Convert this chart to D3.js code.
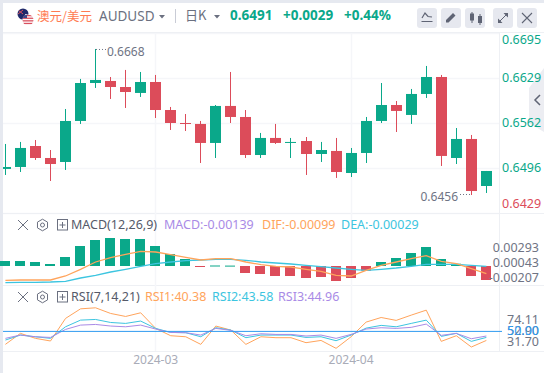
<!DOCTYPE html>
<html>
<head>
<meta charset="utf-8">
<script src="https://cdnjs.cloudflare.com/ajax/libs/d3/7.8.5/d3.min.js"></script>
<style>
html, body { margin: 0; padding: 0; background: #fff; }
svg { display: block; font-family: "Noto Sans", "Noto Sans CJK SC", sans-serif; }
</style>
</head>
<body>
<div id="chart"></div>
<script>
/** DATA */
const opens = [0.64941,0.64970,0.65280,0.65103,0.65044,0.65650,0.66211,0.66241,0.66152,0.66064,0.66226,0.65812,0.65620,0.65606,0.65325,0.65872,0.65709,0.65147,0.65399,0.65325,0.65354,0.65162,0.65207,0.64881,0.65177,0.65650,0.65886,0.65739,0.66049,0.66300,0.65103,0.65384,0.64689];
const highs = [0.65310,0.65340,0.65369,0.65221,0.65827,0.66271,0.66714,0.66300,0.66404,0.66374,0.66330,0.65857,0.65753,0.65650,0.65886,0.66374,0.65812,0.65473,0.65606,0.65399,0.65413,0.65340,0.65399,0.65251,0.65709,0.66211,0.65945,0.66123,0.66463,0.66330,0.65546,0.65443,0.64911];
const lows = [0.64852,0.64896,0.65074,0.64763,0.64926,0.65606,0.66138,0.65975,0.65842,0.66005,0.65694,0.65517,0.65502,0.65029,0.65103,0.65620,0.65103,0.65103,0.65310,0.65103,0.64852,0.65044,0.64808,0.64822,0.65029,0.65620,0.65487,0.65606,0.65990,0.64985,0.65014,0.64556,0.64586];
const closes = [0.64970,0.65251,0.65103,0.65014,0.65650,0.66211,0.66256,0.66152,0.66078,0.66226,0.65812,0.65620,0.65606,0.65325,0.65872,0.65709,0.65147,0.65399,0.65325,0.65340,0.65162,0.65221,0.64896,0.65177,0.65650,0.65886,0.65798,0.66049,0.66300,0.65133,0.65384,0.64615,0.64911];

const macdHist = [0.0005,0.0005,0.0004,0.0002,0.0009,0.0020,0.0026,0.0028,0.0027,0.0027,0.0020,0.0012,0.0007,-0.00005,0.00005,0.00004,-0.0007,-0.0008,-0.0010,-0.0010,-0.0012,-0.0011,-0.0015,-0.0012,-0.00047,0.0004,0.0008,0.0013,0.0019,0.0007,0.00023,-0.0010,-0.0014];
const dif = [-0.00143,-0.00140,-0.00140,-0.00140,-0.00100,-0.00033,0.00040,0.00083,0.00117,0.00147,0.00140,0.00113,0.00087,0.00060,0.00073,0.00073,0.00040,0.00013,-0.00003,-0.00010,-0.00033,-0.00053,-0.00093,-0.00100,-0.00043,0.00007,0.00040,0.00073,0.00103,0.00047,0.00023,-0.00027,-0.00077];
const dea = [-0.00167,-0.00163,-0.00163,-0.00160,-0.00153,-0.00120,-0.00093,-0.00060,-0.00033,-0.00003,0.00023,0.00040,0.00053,0.00060,0.00067,0.00067,0.00057,0.00040,0.00030,0.00020,0.00007,-0.00007,-0.00020,-0.00033,-0.00043,-0.00033,-0.00020,-0.00003,0.00017,0.00017,0.00017,0.00007,-0.00003];

const rsi1 = [36.2,47.9,42.6,39.8,63.8,74.0,75.1,69.1,65.9,69.8,53.2,45.4,44.3,36.2,55.7,51.4,36.2,44.3,43.3,43.3,38.0,40.4,32.0,44.3,59.9,64.8,61.7,67.3,72.6,39.4,45.4,33.4,40.4];
const rsi2 = [40.8,46.1,44.3,42.6,54.9,62.0,62.7,59.5,58.5,61.0,53.2,48.9,48.6,44.3,53.9,51.4,43.3,46.1,46.1,46.1,43.6,44.3,40.1,46.1,53.5,56.4,54.9,58.5,62.0,44.7,47.9,39.4,43.6];
const rsi3 = [42.6,46.1,44.3,43.6,52.1,56.7,57.4,55.7,54.9,56.7,52.5,48.9,48.6,46.1,53.2,51.1,45.4,47.5,46.8,46.8,45.1,46.1,42.6,46.8,52.5,53.9,53.2,54.3,57.8,45.8,47.9,42.2,45.1];

const priceTicks = [0.6695,0.6629,0.6562,0.6496,0.6429];
const macdTicks = ["0.00293","0.00043","-0.00207"];
const rsiTicks = ["74.11","52.90","31.70"];
const dateLabels = [{ i: 10, text: "2024-03" }, { i: 23, text: "2024-04" }];
const prevClose = 0.6462;

/** COLOURS */
const GREEN = "#0aa88a";
const RED = "#dc4c5a";
const ORANGE = "#ffa45c";
const CYAN = "#3cc5e0";
const PURPLE = "#a98be6";
const BLUE = "#2f9bf0";
const GRAY = "#6f7484";
const GRID = "#f5f6f9";
const BORDER = "#eef0f4";

/** LAYOUT */
const width = 544, height = 373;
const plotLeft = 3, plotRight = 499;

const svg = d3.select("#chart").append("svg")
    .attr("width", width)
    .attr("height", height);

const x = d3.scaleLinear().domain([0, opens.length - 1]).range([5.4, 486.36]);
const y = d3.scaleLinear().domain([0.6429, 0.6695]).range([213, 33]);
const yMacd = d3.scaleLinear().domain([-0.002, 0.003]).range([286, 236]);
const yRsi = d3.scaleLinear().domain([30, 75]).range([350.2, 307.9]);
const px = i => Math.floor(x(i));

// page frame
svg.append("rect").attr("width", width).attr("height", 3).attr("fill", "#e6e9f0");
svg.append("rect").attr("width", 3).attr("height", height).attr("fill", "#e6e9f0");

svg.append("defs").append("clipPath").attr("id", "plot")
    .append("rect")
    .attr("x", plotLeft).attr("y", 33)
    .attr("width", plotRight - plotLeft).attr("height", 318);

// FUNCTION: HORIZONTAL RULE
const hRule = function(yPos, color) {
    svg.append("line")
        .attr("x1", plotLeft).attr("x2", width)
        .attr("y1", yPos).attr("y2", yPos)
        .attr("stroke", color)
        .attr("stroke-width", 1);
}

// grid
priceTicks.forEach(p => {
    svg.append("line")
        .attr("x1", plotLeft).attr("x2", plotRight)
        .attr("y1", Math.round(y(p)) + 0.5).attr("y2", Math.round(y(p)) + 0.5)
        .attr("stroke", GRID).attr("stroke-width", 1.5);
});
hRule(32.5, BORDER);
hRule(213.5, BORDER);
hRule(285.5, BORDER);
hRule(351.5, BORDER);

dateLabels.forEach(d => {
    svg.append("line")
        .attr("x1", px(d.i) + 0.5).attr("x2", px(d.i) + 0.5)
        .attr("y1", 33).attr("y2", 351)
        .attr("stroke", GRID).attr("stroke-width", 1.5);
    svg.append("text")
        .attr("x", x(d.i)).attr("y", 364)
        .attr("text-anchor", "middle")
        .attr("font-size", 12)
        .attr("fill", "#a9acb8")
        .text(d.text);
});

svg.append("line")
    .attr("x1", plotRight + 0.5).attr("x2", plotRight + 0.5)
    .attr("y1", 33).attr("y2", 351)
    .attr("stroke", BORDER);

// side collapse tab, sits behind the axis labels
svg.append("path").attr("d", "M544,68L529,88V123L544,132Z").attr("fill", "#ecedf2");
svg.append("path").attr("d", "M540,95l-5,5l5,5").attr("fill", "none").attr("stroke", "#5f6474").attr("stroke-width", 1.5);

/** CANDLES */
const plot = svg.append("g").attr("clip-path", "url(#plot)");
const candleColor = i => closes[i] >= opens[i] ? GREEN : RED;
const idx = d3.range(opens.length);

plot.append("g").selectAll("line")
    .data(idx)
    .join("line")
    .attr("x1", i => px(i) + 0.5)
    .attr("x2", i => px(i) + 0.5)
    .attr("y1", i => y(highs[i]))
    .attr("y2", i => y(lows[i]))
    .attr("stroke", candleColor)
    .attr("stroke-width", 1);

plot.append("g").selectAll("rect")
    .data(idx)
    .join("rect")
    .attr("x", i => px(i) - 5)
    .attr("width", 11)
    .attr("y", i => y(Math.max(opens[i], closes[i])))
    .attr("height", i => Math.max(1, Math.abs(y(opens[i]) - y(closes[i]))))
    .attr("fill", candleColor);

// high / low markers
const hiIdx = d3.greatestIndex(highs);
const loIdx = d3.leastIndex(lows);
svg.append("line")
    .attr("x1", px(hiIdx) + 1).attr("x2", px(hiIdx) + 11)
    .attr("y1", y(highs[hiIdx]) + 0.5).attr("y2", y(highs[hiIdx]) + 0.5)
    .attr("stroke", GRAY).attr("stroke-dasharray", "1 2");
svg.append("text")
    .attr("x", px(hiIdx) + 12).attr("y", y(highs[hiIdx]) + 7.5)
    .attr("font-size", 12).attr("fill", GRAY)
    .text("0.6668");
svg.append("line")
    .attr("x1", px(loIdx) - 11).attr("x2", px(loIdx) - 1)
    .attr("y1", y(lows[loIdx]) - 0.5).attr("y2", y(lows[loIdx]) - 0.5)
    .attr("stroke", GRAY).attr("stroke-dasharray", "1 2");
svg.append("text")
    .attr("x", px(loIdx) - 13).attr("y", y(lows[loIdx]) + 6)
    .attr("text-anchor", "end")
    .attr("font-size", 12).attr("fill", GRAY)
    .text("0.6456");

// price axis, top and bottom labels are held inside the pane
svg.append("g").selectAll("text")
    .data(priceTicks)
    .join("text")
    .attr("x", 502)
    .attr("y", p => Math.min(208, Math.max(44, y(p) + 4)))
    .attr("font-size", 12.5)
    .attr("fill", p => p < prevClose ? RED : GREEN)
    .text(p => p.toFixed(4));

/** MACD */
svg.append("g").selectAll("rect")
    .data(idx)
    .join("rect")
    .attr("x", i => px(i) - 5)
    .attr("width", 10)
    .attr("y", i => yMacd(Math.max(0, macdHist[i])))
    .attr("height", i => Math.max(1, Math.abs(yMacd(macdHist[i]) - yMacd(0))))
    .attr("fill", i => macdHist[i] >= 0 ? GREEN : RED);

const lineOn = (yScale) => d3.line().x((d, i) => x(i)).y(d => yScale(d));

// FUNCTION: INDICATOR LINE
const drawLine = function(values, yScale, color, sw) {
    svg.append("path")
        .datum(values)
        .attr("d", lineOn(yScale))
        .attr("fill", "none")
        .attr("stroke", color)
        .attr("stroke-width", sw);
}

drawLine(dea, yMacd, CYAN, 1.3);
drawLine(dif, yMacd, ORANGE, 1.3);

const macdLabelY = d3.scalePoint().domain(macdTicks).range([252, 281.5]);
svg.append("g").selectAll("text")
    .data(macdTicks)
    .join("text")
    .attr("x", 539).attr("y", d => macdLabelY(d))
    .attr("text-anchor", "end")
    .attr("font-size", 12.5)
    .attr("fill", GRAY)
    .text(d => d);

/** RSI */
drawLine(rsi1, yRsi, ORANGE, 1);
drawLine(rsi2, yRsi, CYAN, 1);
drawLine(rsi3, yRsi, PURPLE, 1);

svg.append("line")
    .attr("x1", plotLeft).attr("x2", plotRight + 3)
    .attr("y1", yRsi(50)).attr("y2", yRsi(50))
    .attr("stroke", BLUE).attr("stroke-width", 1);

const rsiLabelY = d3.scalePoint().domain(rsiTicks).range([324, 346]);
svg.append("g").selectAll("text")
    .data(rsiTicks)
    .join("text")
    .attr("x", 539).attr("y", d => rsiLabelY(d))
    .attr("text-anchor", "end")
    .attr("font-size", 12.5)
    .attr("fill", GRAY)
    .text(d => d);
svg.append("text")
    .attr("x", 539).attr("y", rsiLabelY(rsiTicks[1]))
    .attr("text-anchor", "end")
    .attr("font-size", 12.5)
    .attr("fill", BLUE)
    .text("50.00");

/** LEGENDS */
const legendText = function(g, lx, ly, color, text) {
    g.append("text")
        .attr("x", lx).attr("y", ly)
        .attr("font-size", 12.5)
        .attr("fill", color)
        .text(text);
}

// FUNCTION: PANE CONTROLS (close, settings, collapse)
const paneControls = function(cy) {
    const g = svg.append("g").attr("fill", "none").attr("stroke", "#6b7080");
    g.append("path").attr("d", `M18,${cy - 5}L28,${cy + 5}M28,${cy - 5}L18,${cy + 5}`).attr("stroke-width", 1);
    g.append("path")
        .attr("d", d3.range(6).map(k => {
            const a = Math.PI / 3 * k + Math.PI / 6;
            return (k ? "L" : "M") + (42.5 + 5.8 * Math.cos(a)) + "," + (cy + 5.8 * Math.sin(a));
        }).join("") + "Z")
        .attr("stroke-width", 1);
    g.append("circle").attr("cx", 42.5).attr("cy", cy).attr("r", 2).attr("stroke-width", 1);
    g.append("rect").attr("x", 57.5).attr("y", cy - 5.5).attr("width", 10).attr("height", 10.5);
    g.append("path").attr("d", `M59.5,${cy}H65.5M62.5,${cy - 3}V${cy + 3}`);
}

paneControls(225);
paneControls(297);

const macdLegend = svg.append("g");
legendText(macdLegend, 71, 229, "#555a69", "MACD(12,26,9)");
legendText(macdLegend, 164, 229, PURPLE, "MACD:-0.00139");
legendText(macdLegend, 262, 229, ORANGE, "DIF:-0.00099");
legendText(macdLegend, 341, 229, CYAN, "DEA:-0.00029");

const rsiLegend = svg.append("g");
legendText(rsiLegend, 71, 301, "#555a69", "RSI(7,14,21)");
legendText(rsiLegend, 145, 301, ORANGE, "RSI1:40.38");
legendText(rsiLegend, 212, 301, CYAN, "RSI2:43.58");
legendText(rsiLegend, 278, 301, PURPLE, "RSI3:44.96");

/** HEADER */
const header = svg.append("g");
const flags = svg.append("g");
svg.select("defs").append("clipPath").attr("id", "flagAu").append("circle").attr("cx", 23).attr("cy", 14).attr("r", 5.5);
svg.select("defs").append("clipPath").attr("id", "flagUs").append("circle").attr("cx", 28).attr("cy", 20).attr("r", 5.5);

const au = flags.append("g").attr("clip-path", "url(#flagAu)");
au.append("rect").attr("x", 17).attr("y", 8).attr("width", 12).attr("height", 12).attr("fill", "#1f2a6b");
au.append("path").attr("d", "M18,10L23,14M23,10L18,14").attr("stroke", "#d9505f");
au.append("circle").attr("cx", 26).attr("cy", 15).attr("r", 1).attr("fill", "#fff");

const us = flags.append("g").attr("clip-path", "url(#flagUs)");
us.append("rect").attr("x", 22).attr("y", 14).attr("width", 12).attr("height", 12).attr("fill", "#fff");
d3.range(4).forEach(k => us.append("rect")
    .attr("x", 22).attr("y", 15 + k * 2.6).attr("width", 12).attr("height", 1.3).attr("fill", "#d9505f"));
us.append("rect").attr("x", 22).attr("y", 14).attr("width", 5).attr("height", 4).attr("fill", "#3c4a8a");

header.append("text").attr("x", 37).attr("y", 21).attr("font-size", 12.5)
    .attr("font-family", '"Noto Sans CJK SC"').attr("fill", "#ff7b52").text("澳元/美元");
header.append("text").attr("x", 99).attr("y", 21).attr("font-size", 13.5).attr("fill", "#6b7080").text("AUDUSD");
header.append("path").attr("d", "M159,15h6l-3,3.5z").attr("fill", "#6b7080");
header.append("rect").attr("x", 175).attr("y", 9).attr("width", 1).attr("height", 14).attr("fill", "#c9ccd6");
header.append("text").attr("x", 185).attr("y", 20).attr("font-size", 13)
    .attr("font-family", '"Noto Sans CJK SC"').attr("fill", "#6b7080").text("日K");
header.append("path").attr("d", "M214,15h6l-3,3.5z").attr("fill", "#6b7080");

const quote = [["0.6491", 230], ["+0.0029", 283], ["+0.44%", 344]];
header.selectAll("text.quote")
    .data(quote)
    .join("text")
    .attr("class", "quote")
    .attr("x", d => d[1]).attr("y", 20)
    .attr("font-size", 13.5).attr("font-weight", 700)
    .attr("fill", GREEN)
    .text(d => d[0]);

// toolbar buttons
const buttons = [417, 441, 465, 493, 517];
header.selectAll("rect.btn")
    .data(buttons)
    .join("rect")
    .attr("class", "btn")
    .attr("x", d => d).attr("y", 8)
    .attr("width", 20).attr("height", 20).attr("rx", 3)
    .attr("fill", "#e6e8ef");

const icon = header.append("g").attr("fill", "none").attr("stroke", "#5f6474");
icon.append("path").attr("d", "M422,18l3,-5l3,3.5l4,0.5M421.5,21.5h11").attr("stroke-width", 1.2);
icon.append("path").attr("d", "M446,20l7,-7l2.5,2.5l-7,7l-2.5,0zM445.5,23.5h11").attr("fill", "#5f6474").attr("stroke", "none");
icon.append("path").attr("d", "M472,12v11M480,14v11").attr("stroke-width", 1);
icon.append("rect").attr("x", 470).attr("y", 13.5).attr("width", 4).attr("height", 7).attr("fill", "#5f6474").attr("stroke", "none");
icon.append("rect").attr("x", 478).attr("y", 16).attr("width", 4).attr("height", 7).attr("fill", "#5f6474").attr("stroke", "none");
icon.append("path").attr("d", "M499,22l8,-8").attr("stroke-width", 1);
icon.append("path").attr("d", "M503.5,13h4.5v4.5zM498,18.5v4.5h4.5z").attr("fill", "#5f6474").attr("stroke", "none");
icon.append("path").attr("d", "M522,13l10,10M532,13l-10,10").attr("stroke-width", 1.1);
</script>
</body>
</html>
